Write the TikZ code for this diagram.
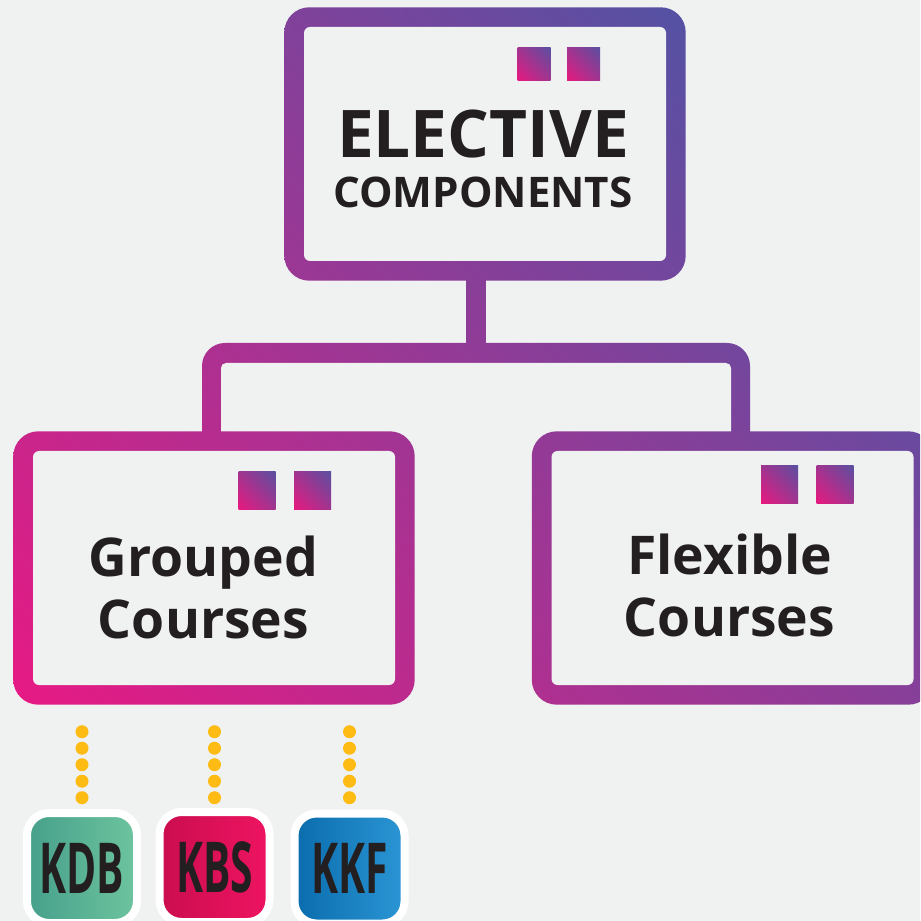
\documentclass[tikz,border=0pt]{standalone}
\usepackage{fontspec}
\setmainfont{Open Sans}
\newfontfamily\narrowfont[FakeStretch=0.58]{Open Sans}
\usetikzlibrary{positioning,backgrounds,shadings}

\definecolor{paper}{RGB}{240,241,241}
\definecolor{ink}{RGB}{35,31,32}
% colour ramp of the whole sheet (pink at bottom left, violet at top right)
\definecolor{gpink}{RGB}{255,16,127}
\definecolor{gviolet}{RGB}{57,92,169}
\definecolor{gmid}{RGB}{159,54,148}
% small tiles
\definecolor{tpink}{RGB}{232,25,127}
\definecolor{tblue}{RGB}{91,79,160}
\definecolor{tmid}{RGB}{161,52,143}
% badges
\definecolor{kdbL}{RGB}{70,160,139}
\definecolor{kdbR}{RGB}{109,196,158}
\definecolor{kbsL}{RGB}{203,13,79}
\definecolor{kbsR}{RGB}{238,20,97}
\definecolor{kkfL}{RGB}{10,108,173}
\definecolor{kkfR}{RGB}{43,150,213}
\definecolor{dotyellow}{RGB}{253,187,20}

% paints the clipped region with the sheet-wide ramp
\newcommand{\rampfill}[1]{%
  \begin{scope}
    \clip #1;
    \shade[shading=bilinear interpolation, lower left=gpink, upper right=gviolet,
      upper left=gmid, lower right=gmid] (0,921) rectangle (920,0);
  \end{scope}}

\begin{document}
\begin{tikzpicture}[x=0.1mm, y=-0.1mm,
    box/.style={fill=paper, rounded corners=0.6mm, minimum width=36.2mm,
      minimum height=23.4mm, inner sep=0},
    tile/.style={minimum size=#1, inner sep=0, shading=bilinear interpolation,
      lower left=tpink, upper right=tblue, upper left=tmid, lower right=tmid},
    title/.style={text=ink, align=center, font=\bfseries\fontsize{12}{14.2}\selectfont},
    course/.style={text=ink, align=center, font=\bfseries\fontsize{15.2}{17.4}\selectfont},
    badge/.style={minimum size=11mm, inner sep=0, rounded corners=2.2mm, draw=white,
      line width=0.8mm, text=ink, font=\narrowfont\bfseries\fontsize{20}{20}\selectfont},
    dotline/.style={draw=dotyellow, line width=1.3mm, line cap=round,
      dash pattern=on 0mm off 1.65mm, shorten <=4.6mm, shorten >=1mm}]
  \useasboundingbox (0,0) rectangle (920,921);

  % boxes
  \node[box] (elective) at (485,144) {};
  \node[box] (grouped) at (214,568) {};
  \node[box] (flexible) at (732.5,568) {};

  % texts
  \node[title] (electivetext) at ([shift={(-2,14.5)}]elective.center)
    {{\fontsize{18.7}{14.2}\selectfont ELECTIVE}\\COMPONENTS};
  \node[course] (groupedtext) at ([shift={(-10.5,19.5)}]grouped.center) {Grouped\\Courses};
  \node[course] (flexibletext) at ([shift={(-3,17.5)}]flexible.center) {Flexible\\Courses};

  % tiles
  \node[tile=3.3mm, anchor=north east] (elective-t2) at ([shift={(-66,21)}]elective.north east) {};
  \node[tile=3.3mm, left=1.5mm of elective-t2] (elective-t1) {};
  \node[tile=3.7mm, anchor=north east] (grouped-t2) at ([shift={(-64,21)}]grouped.north east) {};
  \node[tile=3.7mm, left=1.7mm of grouped-t2] (grouped-t1) {};
  \node[tile=3.7mm, anchor=north east] (flexible-t2) at ([shift={(-60,15)}]flexible.north east) {};
  \node[tile=3.7mm, left=1.7mm of flexible-t2] (flexible-t1) {};

  % badges
  \node[badge, left color=kdbL, right color=kdbR] (kdb) at (82,868) {KDB};
  \node[badge, left color=kbsL, right color=kbsR] (kbs) at (214.5,867) {KBS};
  \node[badge, left color=kkfL, right color=kkfR] (kkf) at (349.5,868.5) {KKF};

  \draw[dotline] (grouped.south -| kdb.north) -- (kdb.north);
  \draw[dotline] (grouped.south -| kbs.north) -- (kbs.north);
  \draw[dotline] (grouped.south -| kkf.north) -- (kkf.north);

  % bracket
  \coordinate (bar) at (476,353);
  \coordinate (stem) at (bar |- elective.south);
  \coordinate (legL) at ([xshift=-0.25mm]bar -| grouped.north);
  \coordinate (legR) at ([xshift=0.8mm]bar -| flexible.north);

  \begin{scope}[on background layer]
    \fill[paper] (0,0) rectangle (920,921);
    \rampfill{[rounded corners=2.3mm] ([shift={(-9.5,-10)}]legL) rectangle ([shift={(9.5,117)}]legR)}
    \fill[paper, rounded corners=0.5mm] ([shift={(9.5,10)}]legL) rectangle ([shift={(-9.5,117)}]legR);
    \rampfill{([shift={(-9.5,0)}]stem) rectangle ([shift={(9.5,0)}]bar)}
    % frames
    \rampfill{[rounded corners=2.5mm] ([shift={(-19,19)}]elective.south west) rectangle ([shift={(19,-19)}]elective.north east)}
    \rampfill{[rounded corners=2.5mm] ([shift={(-19,19)}]grouped.south west) rectangle ([shift={(19,-19)}]grouped.north east)}
    \rampfill{[rounded corners=2.5mm] ([shift={(-19,19)}]flexible.south west) rectangle ([shift={(19,-19)}]flexible.north east)}
  \end{scope}
\end{tikzpicture}
\end{document}
